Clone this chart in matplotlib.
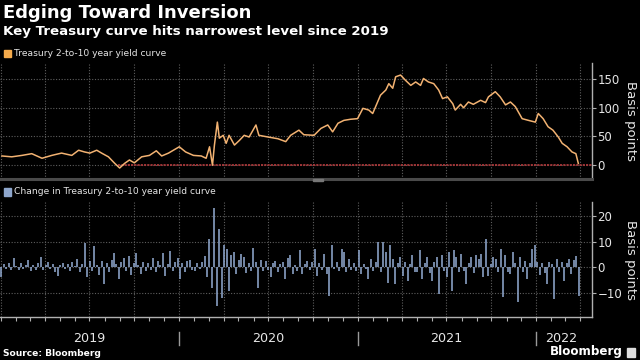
import matplotlib
matplotlib.use("Agg")
import matplotlib.pyplot as plt
import matplotlib.dates as mdates
import matplotlib.transforms as mtransforms
from matplotlib.patches import Rectangle
from matplotlib.ticker import NullFormatter
import pandas as pd

title = "Edging Toward Inversion"
subtitle = "Key Treasury curve hits narrowest level since 2019"
legend_top = "Treasury 2-to-10 year yield curve"
legend_bottom = "Change in Treasury 2-to-10 year yield curve"
y_label = "Basis points"
years = ["2019", "2020", "2021", "2022"]

curve_dates = ["2019-01-03","2019-01-23","2019-02-13","2019-03-05","2019-03-26","2019-04-15","2019-05-05","2019-05-26","2019-06-09","2019-06-21",
               "2019-07-02","2019-07-16","2019-07-26","2019-08-09","2019-08-22","2019-09-01","2019-09-11","2019-09-21","2019-10-01","2019-10-16",
               "2019-11-01","2019-11-15","2019-11-26","2019-12-10","2019-12-22",
               "2020-01-01","2020-01-14","2020-01-30","2020-02-15","2020-02-25","2020-03-03","2020-03-09","2020-03-13","2020-03-19","2020-03-23",
               "2020-03-31","2020-04-06","2020-04-12","2020-04-23","2020-05-03","2020-05-13","2020-05-23","2020-06-06","2020-06-12","2020-07-01",
               "2020-07-21","2020-08-06","2020-08-16","2020-09-02","2020-09-12","2020-10-03","2020-10-17","2020-10-31","2020-11-10","2020-11-21",
               "2020-12-03","2020-12-17","2020-12-31",
               "2021-01-11","2021-01-23","2021-01-31","2021-02-06","2021-02-16","2021-02-27","2021-03-05","2021-03-13","2021-03-19","2021-03-29",
               "2021-04-08","2021-04-19","2021-04-29","2021-05-09","2021-05-15","2021-05-25","2021-06-05","2021-06-15","2021-06-23","2021-07-03",
               "2021-07-14","2021-07-19","2021-07-30","2021-08-05","2021-08-15","2021-08-25","2021-09-09","2021-09-19","2021-09-25","2021-10-09",
               "2021-10-19","2021-10-30","2021-11-09","2021-11-19","2021-12-03","2021-12-16","2021-12-30",
               "2022-01-05","2022-01-15","2022-01-25","2022-02-04","2022-02-15","2022-02-23","2022-03-05","2022-03-15","2022-03-23","2022-03-28"]
curve_values = [16, 14.5, 17, 20, 12, 17, 21, 17, 26, 23,
                21, 26, 21, 14.5, 3, -5, 3, 9, 4, 14.5,
                17, 25, 16, 21, 27,
                32, 23, 17, 16, 12, 32, 0, 35, 75, 47,
                52, 38, 52, 35, 43, 52, 49, 70, 52, 49,
                46, 41, 52, 61, 53, 52, 64, 70, 58, 73,
                78, 80, 81,
                99, 96, 90, 102, 122, 131, 142, 134, 154, 157,
                148, 139, 145, 139, 151, 145, 142, 131, 116, 119,
                107, 96, 106, 100, 110, 106, 113, 109, 119, 128,
                119, 105, 110, 102, 81, 78, 75,
                90, 81, 67, 61, 49, 38, 32, 23, 20, 3]

change_start = "2019-01-02"
change_end = "2022-03-29"
change_values = [-4, 1.2, -0.8, 1.5, -1.0, 3.7, 0.6, -1.2, 1.8, -0.5,
                 0.9, 3.0, -1.5, 0.7, -0.9, 1.6, 4.0, -1.1, 0.8, 2.0,
                 -0.6, 1.3, -1.8, -3.3, 0.9, 1.8, -0.7, 1.1, -1.5, 2.2,
                 0.5, 3.3, -1.9, 1.4, 9.6, -4.0, 2.5, -1.6, 8.3, 1.0,
                 -3.0, 2.4, -6.6, 1.5, -2.0, 2.8, 5.5, 1.2, -4.6, 2.0,
                 3.5, -1.4, 4.3, -3.0, 1.8, 5.5, 0.8, -2.6, 2.2, -1.3,
                 1.7, -0.9, 3.5, -1.8, 2.5, 0.9, 5.7, -3.6, 1.4, 6.2,
                 -1.5, 2.1, 3.5, -4.6, 1.8, -2.0, 2.4, 3.0, -1.2, -1.3,
                 1.5, -0.8, 1.9, 4.3, -4.0, 11.0, -8.0, 23.0, -15.0, 15.0,
                 -12.0, 8.5, 7.2, -9.2, 4.6, 6.0, -2.5, 3.0, 5.3, 4.0,
                 -2.2, 1.8, -1.5, 7.5, 2.0, -8.0, 3.0, -1.4, 2.6, -0.9,
                 -4.0, 1.5, 2.5, -1.8, 1.2, 2.0, -4.6, 3.5, 4.6, -2.6,
                 1.0, -1.5, 6.6, -2.6, 1.4, 2.6, -1.1, 2.0, 7.2, -3.3,
                 1.6, -1.2, 5.3, -2.6, -11.2, 8.5, -0.7, 2.2, -1.5, 7.2,
                 6.0, -2.0, 3.3, -1.0, 1.8, -1.5, 6.6, -2.6, 1.2, -0.8,
                 -4.6, 3.3, -1.4, 2.0, 9.9, -2.0, 9.9, 6.0, -6.0, 8.5,
                 3.3, -6.6, 1.5, 4.0, -3.3, 2.2, -5.3, 1.4, 4.6, -1.8,
                 -2.0, 6.6, -4.6, 1.8, 4.0, -2.2, -5.3, 2.0, 4.0, -10.5,
                 4.6, -1.5, -4.0, 6.0, -9.2, 6.6, 4.0, -2.0, 5.3, -1.6,
                 -6.6, 1.8, 4.0, -2.4, 4.6, 3.3, 5.3, -4.0, 11.2, -3.3,
                 1.4, 4.0, 3.3, -2.0, 7.0, -11.8, 4.6, -1.8, -2.6, 6.0,
                 1.5, -13.5, 4.0, -2.0, 2.5, -4.6, 1.8, 7.2, 8.5, 2.0,
                 -3.0, 1.6, -2.4, -6.6, 2.0, 1.2, -12.5, 3.3, -2.0, 2.0,
                 -5.3, 1.5, 3.3, -2.5, 3.0, 4.5, -11.2]

top_ticks = [0, 50, 100, 150]
bottom_ticks = [-10, 0, 10, 20]
inversion_start = "2019-08-28"

BG = "black"
ORANGE = "#f2b272"
ORANGE_SQ = "#f5ab4c"
BLUE = "#8ea6cc"
GRID = "#5e5e5e"
TXT = "#e6e6e6"

xmin = pd.Timestamp("2018-12-30")
xmax = pd.Timestamp("2022-04-25")

fig = plt.figure(figsize=(6.4, 3.6), dpi=100, facecolor=BG)
ax1 = fig.add_axes([0, 0.503, 0.925, 0.322])
ax2 = fig.add_axes([0, 0.119, 0.925, 0.320])

cd = pd.to_datetime(curve_dates)
chg_dates = pd.date_range(change_start, change_end, periods=len(change_values))

for ax in (ax1, ax2):
    ax.set_facecolor(BG)
    for s in ("top", "left"):
        ax.spines[s].set_visible(False)
    ax.spines["right"].set_color("#b0b0b0")
    ax.spines["right"].set_linewidth(1.0)
    ax.set_xlim(xmin, xmax)
    ax.yaxis.tick_right()
    ax.tick_params(axis="y", colors="#b0b0b0", labelcolor=TXT, labelsize=8.5,
                   length=3, width=0.8, pad=1)
    ax.xaxis.set_major_locator(mdates.MonthLocator(bymonth=[1, 4, 7, 10]))
    ax.xaxis.set_major_formatter(NullFormatter())
    ax.grid(True, color=GRID, linestyle=(0, (1, 1.5)), linewidth=0.8)
    ax.set_axisbelow(True)

# top panel
ax1.set_ylim(-24, 178)
ax1.set_yticks(top_ticks)
ax1.spines["bottom"].set_color("#4a4a4a")
ax1.spines["bottom"].set_linewidth(2.2)
ax1.tick_params(axis="x", length=0)
ax1.hlines(0, pd.Timestamp(inversion_start), xmax, color="#a8383a",
           linewidth=1.3, linestyle=(0, (1.2, 0.6)), zorder=2)
ax1.plot(cd, curve_values, color=ORANGE, linewidth=1.1, zorder=3)

# bottom panel
ax2.set_ylim(-19.5, 25.5)
ax2.set_yticks(bottom_ticks)
ax2.spines["bottom"].set_color("#b0b0b0")
ax2.spines["bottom"].set_linewidth(1.0)
ax2.xaxis.set_minor_locator(mdates.MonthLocator())
ax2.tick_params(axis="x", which="both", length=3, width=0.8, color="#b0b0b0", direction="out")
ax2.vlines(chg_dates, 0, change_values, color=BLUE, linewidth=1.15, zorder=3)

trans = mtransforms.blended_transform_factory(ax2.transData, ax2.transAxes)
for i, y in enumerate(years):
    mid = pd.Timestamp(f"{y}-07-01")
    if i == len(years) - 1:
        mid = pd.Timestamp(f"{y}-02-20")
    ax2.text(mid, -0.185, y, transform=trans, ha="center", va="center",
             color=TXT, fontsize=9.2, clip_on=False)
    if i > 0:
        b = pd.Timestamp(f"{y}-01-01")
        ax2.plot([b, b], [-0.13, -0.245], transform=trans, color="#9a9a9a",
                 linewidth=1.0, clip_on=False)

# titles and labels
fig.text(3 / 640, 1 - 13 / 360, title, color="white", fontsize=13,
         fontweight="bold", va="center", ha="left")
fig.text(3 / 640, 1 - 31 / 360, subtitle, color="white", fontsize=9.6,
         fontweight="bold", va="center", ha="left")

fig.patches.append(Rectangle((4 / 640, 1 - 57 / 360), 7 / 640, 7 / 360,
                             transform=fig.transFigure, color=ORANGE_SQ))
fig.text(14 / 640, 1 - 53.5 / 360, legend_top, color=TXT, fontsize=6.6,
         va="center", ha="left")
fig.patches.append(Rectangle((4 / 640, 1 - 196 / 360), 7 / 640, 8 / 360,
                             transform=fig.transFigure, color=BLUE))
fig.text(14 / 640, 1 - 192 / 360, legend_bottom, color=TXT, fontsize=6.6,
         va="center", ha="left")

fig.text(630 / 640, 1 - 121 / 360, y_label, color=TXT, fontsize=9.5,
         rotation=270, va="center", ha="center")
fig.text(630 / 640, 1 - 260 / 360, y_label, color=TXT, fontsize=9.5,
         rotation=270, va="center", ha="center")

fig.patches.append(Rectangle((313 / 640, 1 - 181 / 360), 10 / 640, 2 / 360,
                             transform=fig.transFigure, color="#777777"))

fig.text(3 / 640, 1 - 353 / 360, "Source: Bloomberg", color="white", fontsize=6.6,
         fontweight="bold", va="center", ha="left")
fig.text(623 / 640, 1 - 352 / 360, "Bloomberg", color="white", fontsize=8.6,
         fontweight="bold", va="center", ha="right")
fig.patches.append(Rectangle((627 / 640, 1 - 357 / 360), 8 / 640, 9 / 360,
                             transform=fig.transFigure, color="#dddddd"))

fig.savefig("out.png", dpi=100, facecolor=BG)
